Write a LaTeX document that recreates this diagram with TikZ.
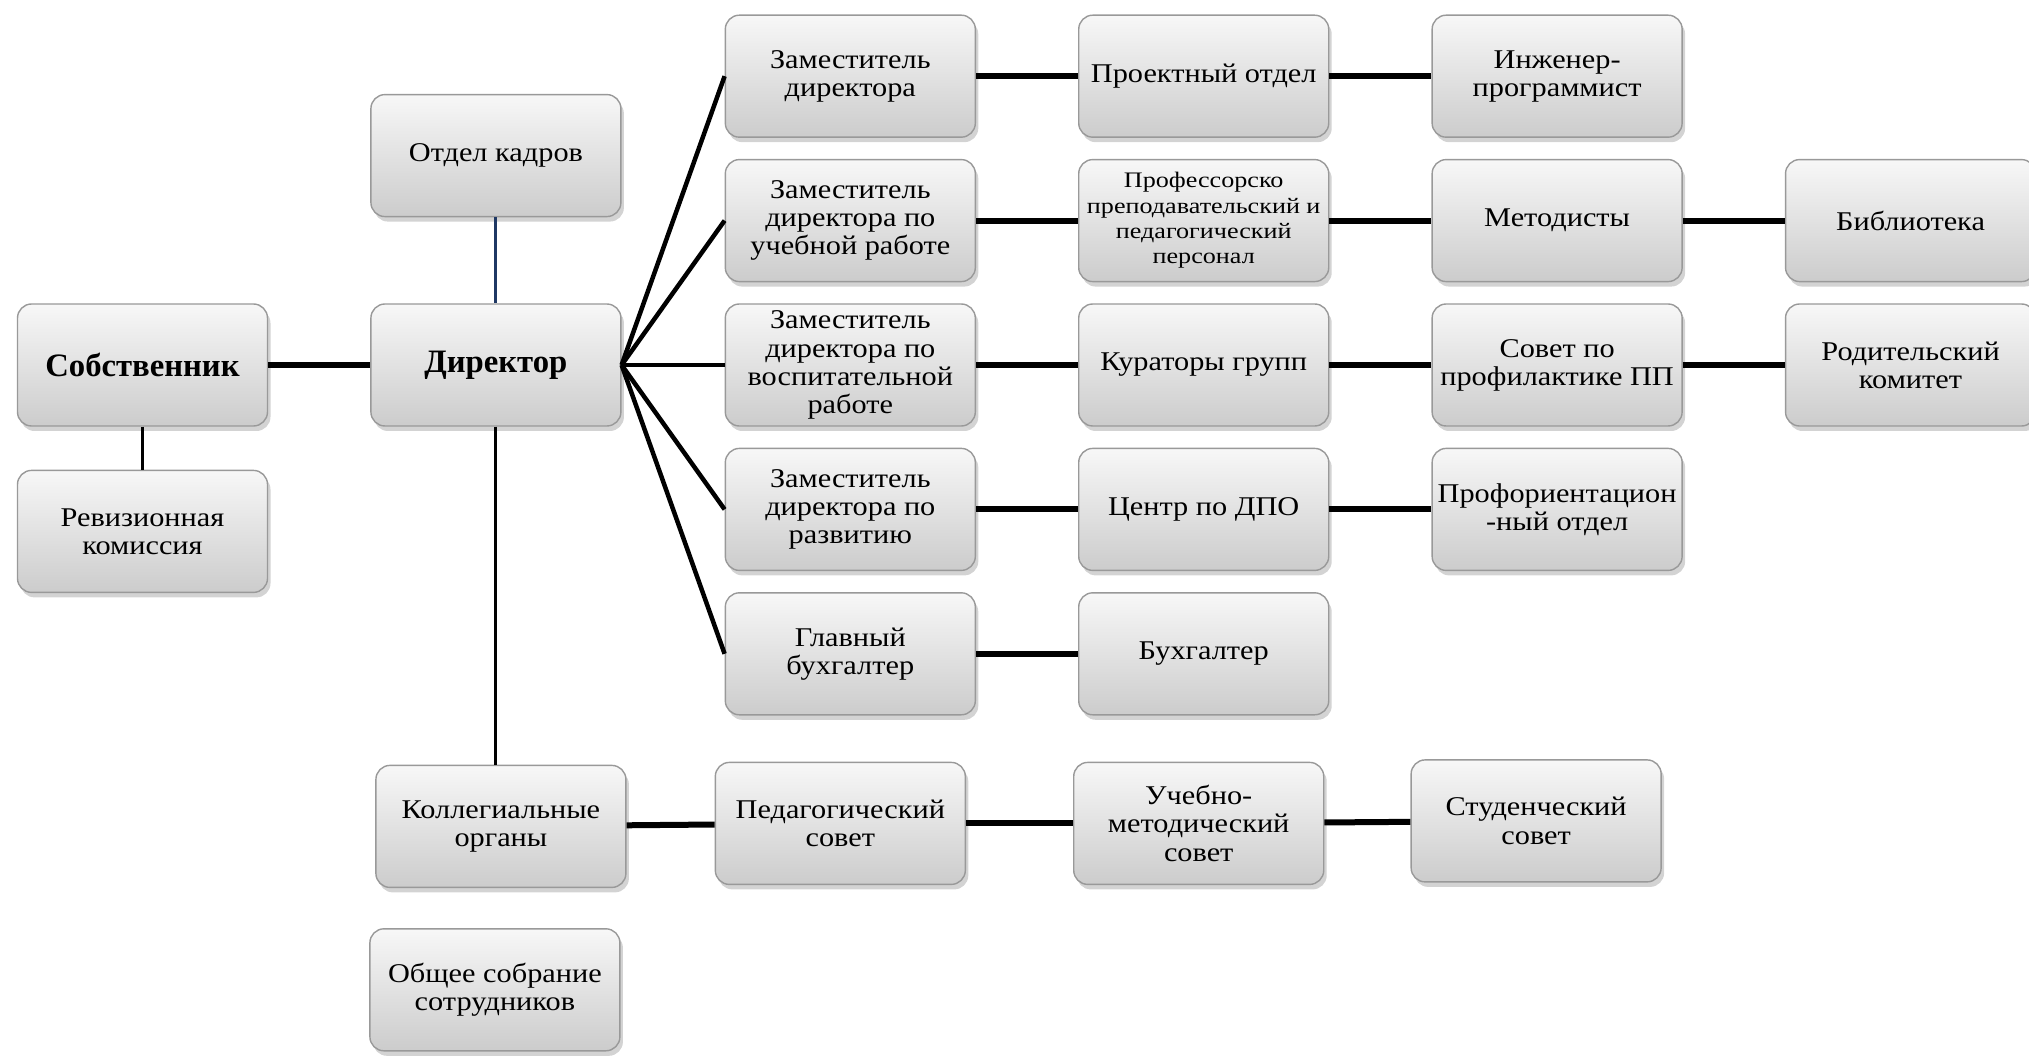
\documentclass[tikz,border=0pt]{standalone}
\usepackage{fontspec}
\setmainfont{Liberation Serif}
\newfontfamily\widefont[FakeStretch=1.12]{Liberation Serif}
\newfontfamily\widerfont[FakeStretch=1.18]{Liberation Serif}
\usetikzlibrary{positioning,shadows}

\begin{document}
\begin{tikzpicture}[
  node distance=0.21cm and 1.02cm,
  box/.style={draw=black!40, rounded corners=4pt, align=center,
    minimum width=2.5cm, minimum height=1.22cm, inner sep=1pt,
    top color=black!3, bottom color=black!20,
    drop shadow={shadow xshift=0.03cm, shadow yshift=-0.05cm, opacity=0.35},
    font=\widefont\fontsize{7.7}{8}\selectfont},
  headbox/.style={box, font=\fontsize{9.3}{11}\selectfont\bfseries},
  smallbox/.style={box, font=\widerfont\fontsize{6.3}{7.2}\selectfont},
  link/.style={line width=0.06cm},
  fan/.style={line width=0.045cm},
  stem/.style={line width=0.03cm}
]
  \useasboundingbox (0,0) rectangle (20.29,-10.57);

  \node[headbox] (owner) at (1.425,-3.65) {Собственник};
  \node[box, below=0.43cm of owner] (audit) {Ревизионная\\комиссия};
  \node[headbox, right=of owner] (dir) {Директор};
  \node[box, above=0.86cm of dir] (hr) {Отдел кадров};

  \node[box, right=1.03cm of dir] (dep3) {Заместитель\\директора по\\воспитательной\\работе};
  \node[box, above=of dep3] (dep2) {Заместитель\\директора по\\учебной работе};
  \node[box, above=of dep2] (dep1) {Заместитель\\директора};
  \node[box, below=of dep3] (dep4) {Заместитель\\директора по\\развитию};
  \node[box, below=of dep4] (dep5) {Главный\\бухгалтер};

  \node[box, right=of dep1] (proj) {Проектный отдел};
  \node[smallbox, right=of dep2] (staff) {Профессорско\\преподавательский и\\педагогический\\персонал};
  \node[box, right=of dep3] (cur) {Кураторы групп};
  \node[box, right=of dep4] (dpo) {Центр по ДПО};
  \node[box, right=of dep5] (acc) {Бухгалтер};

  \node[box, right=of proj] (eng) {Инженер-\\программист};
  \node[box, right=of staff] (meth) {Методисты};
  \node[box, right=of cur] (pp) {Совет по\\профилактике ПП};
  \node[box, right=of dpo] (prof) {Профориентацион\\-ный отдел};

  \node[box, right=of meth] (lib) {Библиотека};
  \node[box, right=of pp] (parent) {Родительский\\комитет};

  \node[box, below=3.38cm of dir, xshift=0.05cm] (coll) {Коллегиальные\\органы};
  \node[box, below=0.4cm of coll, xshift=-0.06cm] (meeting) {Общее собрание\\сотрудников};
  \node[box, right=0.88cm of coll, yshift=0.03cm] (ped) {Педагогический\\совет};
  \node[box, right=1.07cm of ped] (umc) {Учебно-\\методический\\совет};
  \node[box, right=0.86cm of umc, yshift=0.025cm] (stud) {Студенческий\\совет};

  \draw[link] (owner) -- (dir);
  \draw[stem] (owner) -- (audit);
  \draw[stem, draw={rgb,255:red,31;green,56;blue,100}] (hr) -- (dir);
  \draw[stem] (dir) -- (dir |- coll.north);

  \foreach \d in {dep1,dep2,dep3,dep4,dep5}
    \draw[fan] (dir.east) -- (\d.west);

  \draw[link] (dep1) -- (proj);
  \draw[link] (dep2) -- (staff);
  \draw[link] (dep3) -- (cur);
  \draw[link] (dep4) -- (dpo);
  \draw[link] (dep5) -- (acc);
  \draw[link] (proj) -- (eng);
  \draw[link] (staff) -- (meth);
  \draw[link] (cur) -- (pp);
  \draw[link] (dpo) -- (prof);
  \draw[link] (meth) -- (lib);
  \draw[link] (pp) -- (parent);
  \draw[link] (coll) -- (ped);
  \draw[link] (ped) -- (umc);
  \draw[link] (umc) -- (stud);
\end{tikzpicture}
\end{document}
